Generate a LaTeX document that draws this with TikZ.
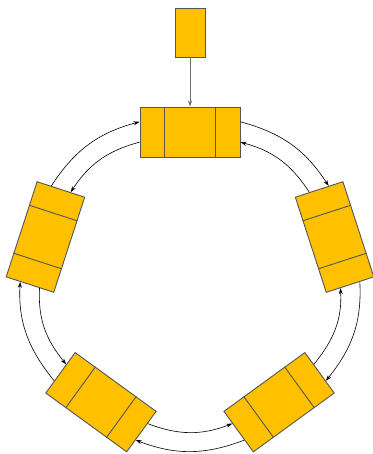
\documentclass[tikz,border=0pt]{standalone}
\usepackage{tikz}
\usetikzlibrary{arrows.meta,calc}
\definecolor{cellgold}{HTML}{FFC000}
\definecolor{edgegray}{HTML}{555555}
\definecolor{feedgray}{HTML}{6E6E6E}
\tikzset{
  cell/.style={draw=edgegray,fill=cellgold,line width=.9pt,rectangle,minimum width=100pt,minimum height=50pt,inner sep=0pt},
  feeder/.style={draw=edgegray,fill=cellgold,line width=.9pt,rectangle,minimum width=30pt,minimum height=49pt,inner sep=0pt},
  divider/.style={draw=edgegray,line width=.9pt},
  feed/.style={-{Stealth[length=6pt,width=4pt]},draw=feedgray,line width=1pt},
  flow/.style={-{Stealth[length=6pt,width=4pt]},line width=.6pt},
}
\begin{document}
\begin{tikzpicture}[x=1pt,y=1pt]
  \useasboundingbox (0,0) rectangle (372,454);
  \coordinate (ring) at (190,170);
  % five cells round the ring, numbered clockwise from the top
  \foreach \n/\a/\r/\t in {b1/90/152/0,b2/18/152/-72,b3/-53/148/-144,b4/233/148/144,b5/162/152/72}{
    \node[cell,rotate=\t] (\n) at ($(ring)+(\a:\r)$) {};
    \draw[divider] ($(\n.north west)!0.25!(\n.north east)$) -- ($(\n.south west)!0.25!(\n.south east)$);
    \draw[divider] ($(\n.north west)!0.75!(\n.north east)$) -- ($(\n.south west)!0.75!(\n.south east)$);
  }
  \node[feeder] (inp) at (190,421.5) {};
  \draw[feed] (inp.south) -- (b1.north);
  % outer arcs clockwise, inner arcs back
  \foreach \i/\j/\ti/\tj in {b1/b2/0/-72,b2/b3/-72/-144,b3/b4/-144/144,b4/b5/144/72,b5/b1/72/0}{
    \draw[flow] ($(\i.east)!0.4!(\i.north east)$) to[out=\ti-15,in=\tj+195] ($(\j.west)!0.4!(\j.north west)$);
    \draw[flow] ($(\j.west)!0.4!(\j.south west)$) to[out=\tj+195,in=\ti-15] ($(\i.east)!0.4!(\i.south east)$);
  }
\end{tikzpicture}
\end{document}
